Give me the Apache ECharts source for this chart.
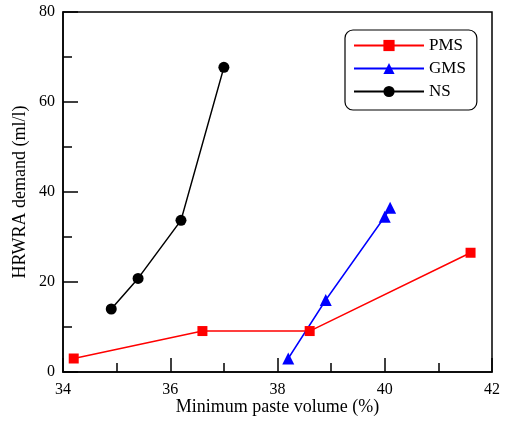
<!DOCTYPE html>
<html>
<head>
<meta charset="utf-8">
<script src="https://cdn.jsdelivr.net/npm/echarts@6/dist/echarts.min.js"></script>
<style>
  html, body { margin: 0; padding: 0; background: #fff; }
  #chart { width: 505px; height: 421px; }
</style>
</head>
<body>
<div id="chart"></div>
<script>
// 数据
const pmsX = [34.2, 36.6, 38.6, 41.6]
const pmsY = [3.0, 9.1, 9.1, 26.5]
const gmsX = [38.2, 38.9, 40.0, 40.1]
const gmsY = [3.0, 16.0, 34.5, 36.5]
const nsX = [34.9, 35.4, 36.2, 37.0]
const nsY = [14.0, 20.8, 33.7, 67.7]

const pair = (xs, ys) => xs.map((x, i) => [x, ys[i]])

const font = 'Liberation Serif, Times New Roman, serif'
const myChart = echarts.init(document.getElementById('chart'))

const axisCommon = {
  axisLine: { show: true, onZero: false, lineStyle: { color: '#000', width: 1.5 } },
  axisTick: { show: true, inside: true, lineStyle: { color: '#000', width: 1.5 } },
  minorTick: { show: true, splitNumber: 2, lineStyle: { color: '#000', width: 1.5 } },
  splitLine: { show: false },
  axisLabel: { color: '#000', fontFamily: font, fontSize: 16 },
  nameTextStyle: { color: '#000', fontFamily: font, fontSize: 18 },
  nameLocation: 'middle',
  nameMoveOverlap: false
}

const option = {
  animation: false,
  grid: {
    left: 63, right: 13, top: 12, bottom: 49,
    outerBoundsMode: 'none',
    show: true, borderColor: '#000', borderWidth: 1.5
  },
  legend: {
    left: 345, top: 30,
    orient: 'vertical',
    itemWidth: 70, itemHeight: 14, itemGap: 6,
    padding: [7, 11, 10, 8],
    borderColor: '#000', borderWidth: 1.2, borderRadius: 8,
    textStyle: { color: '#000', fontFamily: font, fontSize: 17 },
    data: ['PMS', 'GMS', 'NS']
  },
  xAxis: {
    ...axisCommon,
    type: 'value', min: 34, max: 42, interval: 2,
    name: 'Minimum paste volume (%)', nameGap: 26,
    axisTick: { ...axisCommon.axisTick, length: 14 },
    minorTick: { ...axisCommon.minorTick, length: 9 },
    axisLabel: { ...axisCommon.axisLabel, margin: 10 }
  },
  yAxis: {
    ...axisCommon,
    type: 'value', min: 0, max: 80, interval: 20,
    name: 'HRWRA demand (ml/l)', nameGap: 34,
    axisTick: { ...axisCommon.axisTick, length: 15 },
    minorTick: { ...axisCommon.minorTick, length: 9 },
    axisLabel: { ...axisCommon.axisLabel, margin: 8 }
  },
  series: [
    {
      name: 'PMS', type: 'line', data: pair(pmsX, pmsY),
      symbol: 'rect', symbolSize: 10,
      lineStyle: { color: '#ff0000', width: 1.5 },
      itemStyle: { color: '#ff0000' }
    },
    {
      name: 'GMS', type: 'line', data: pair(gmsX, gmsY),
      symbol: 'triangle', symbolSize: 12,
      lineStyle: { color: '#0000ff', width: 1.5 },
      itemStyle: { color: '#0000ff' }
    },
    {
      name: 'NS', type: 'line', data: pair(nsX, nsY),
      symbol: 'circle', symbolSize: 11,
      lineStyle: { color: '#000', width: 1.5 },
      itemStyle: { color: '#000' }
    }
  ]
}
myChart.setOption(option)
</script>
</body>
</html>
